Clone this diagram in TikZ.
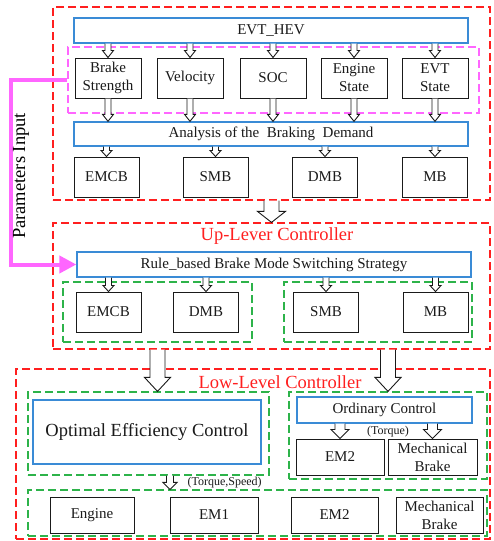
\documentclass[tikz,border=0pt]{standalone}
\usepackage{fontspec}
\setmainfont{Liberation Serif}
\usetikzlibrary{arrows.meta,calc}
\definecolor{ink}{HTML}{1A1A1A}
\definecolor{levelred}{HTML}{FF1F1F}
\definecolor{inputpink}{HTML}{FF66FF}
\definecolor{groupgreen}{HTML}{2DB34A}
\definecolor{stageblue}{HTML}{3A8BD6}

% hollow block arrow: from, to, half shaft, half head, head length
\newcommand{\hollowarrow}[5]{%
  \filldraw[hollow] let \p1=#1, \p2=#2 in
    (\x2-#3,\y1) -- (\x2-#3,\y2+#5) -- (\x2-#4,\y2+#5) -- (\x2,\y2)
    -- (\x2+#4,\y2+#5) -- (\x2+#3,\y2+#5) -- (\x2+#3,\y1);}

\begin{document}
\begin{tikzpicture}[
  x=1pt, y=-1pt,
  font=\fontsize{15pt}{18pt}\selectfont,
  unit/.style={draw=ink, fill=white, line width=1pt, text=ink, align=center,
    inner sep=1pt, anchor=center},
  stage/.style={draw=stageblue, fill=white, line width=1.3pt, text=ink, align=center,
    inner sep=1pt, anchor=center},
  level/.style={draw=levelred, line width=1.2pt, dash pattern=on 8pt off 4pt,
    inner sep=0pt, anchor=center},
  inputs/.style={draw=inputpink, line width=1.2pt, dash pattern=on 8pt off 4pt,
    inner sep=0pt, anchor=center},
  group/.style={draw=groupgreen, line width=1.2pt, dash pattern=on 8pt off 4pt,
    inner sep=0pt, anchor=center},
  title/.style={text=levelred, font=\fontsize{18.5pt}{20pt}\selectfont},
  signal/.style={text=ink, font=\fontsize{12pt}{14pt}\selectfont},
  hollow/.style={draw=ink, fill=white, line width=0.9pt, line join=miter},
  feed/.style={draw=inputpink, line width=4pt, -{Triangle[length=17pt,width=17pt]}}
]
\useasboundingbox (0,0) rectangle (494,541);

% dashed frames
\node[level, minimum width=437pt, minimum height=193pt] (upper) at (271.5,103.5) {};
\node[inputs, minimum width=411pt, minimum height=66pt] (params) at (273.5,80) {};
\node[level, minimum width=437pt, minimum height=126pt] (middle) at (271.5,286) {};
\node[group, minimum width=189pt, minimum height=60pt] (modesA) at (157.5,312) {};
\node[group, minimum width=188pt, minimum height=60pt] (modesB) at (378,312) {};
\node[level, minimum width=474pt, minimum height=170pt] (lower) at (253,454) {};
\node[group, minimum width=241pt, minimum height=83pt] (optgrp) at (148.5,433.5) {};
\node[group, minimum width=198pt, minimum height=87pt] (ordgrp) at (388,435.5) {};
\node[group, minimum width=459pt, minimum height=46pt] (actgrp) at (257.5,513) {};

% vehicle and inputs
\node[stage, minimum width=394pt, minimum height=25pt] (evt) at (271,30.5) {EVT\_HEV};
\node[unit, minimum width=66pt, minimum height=40pt] (strength) at (108,78) {Brake\\Strength};
\node[unit, minimum width=66pt, minimum height=40pt] (velocity) at (190,78) {Velocity};
\node[unit, minimum width=66pt, minimum height=40pt] (soc) at (273,78) {SOC};
\node[unit, minimum width=66pt, minimum height=40pt] (engstate) at (354,78) {Engine\\State};
\node[unit, minimum width=66pt, minimum height=40pt] (evtstate) at (435,78) {EVT\\State};
\node[stage, minimum width=394pt, minimum height=24pt] (demand) at (271,134)
  {Analysis of the\ \ Braking\ \ Demand};
\node[unit, minimum width=65pt, minimum height=40pt] (emcbA) at (106.5,177) {EMCB};
\node[unit, minimum width=65pt, minimum height=40pt] (smbA) at (215.5,177) {SMB};
\node[unit, minimum width=65pt, minimum height=40pt] (dmbA) at (325,177) {DMB};
\node[unit, minimum width=65pt, minimum height=40pt] (mbA) at (435,177) {MB};

% up-level controller
\node[title] (uptitle) at (277,236) {Up-Lever Controller};
\node[stage, minimum width=394pt, minimum height=25pt] (rule) at (274,264.5)
  {Rule\_based Brake Mode Switching Strategy};
\node[unit, minimum width=65pt, minimum height=40pt] (emcbB) at (108.5,312) {EMCB};
\node[unit, minimum width=65pt, minimum height=40pt] (dmbB) at (206,312) {DMB};
\node[unit, minimum width=65pt, minimum height=40pt] (smbB) at (326,312) {SMB};
\node[unit, minimum width=65pt, minimum height=40pt] (mbB) at (435.5,312) {MB};

% low-level controller
\node[title] (lowtitle) at (280,382) {Low-Level Controller};
\node[stage, minimum width=228pt, minimum height=64pt, font=\fontsize{18.5pt}{20pt}\selectfont]
  (oec) at (147,432) {Optimal Efficiency Control};
\node[stage, minimum width=175pt, minimum height=26pt] (ordinary) at (384.5,410) {Ordinary Control};
\node[unit, minimum width=88pt, minimum height=36pt] (emtwoA) at (340,457) {EM2};
\node[unit, minimum width=89pt, minimum height=36pt] (mechA) at (432.5,457) {Mechanical\\Brake};
\node[signal] (torque) at (388,432) {(Torque)};
\node[unit, minimum width=84pt, minimum height=36pt] (engine) at (92,515) {Engine};
\node[unit, minimum width=88pt, minimum height=36pt] (emone) at (214,515) {EM1};
\node[unit, minimum width=87pt, minimum height=36pt] (emtwoB) at (334.5,515) {EM2};
\node[unit, minimum width=87pt, minimum height=36pt] (mechB) at (439.5,515) {Mechanical\\Brake};
\node[signal, anchor=west] (torspeed) at (184,483) {(Torque,Speed)};

% parameters fed to the switching strategy
\coordinate (pbend) at (10.5,80);
\draw[feed] (params.west) -- (pbend) |- (rule.west);
\node[rotate=90, font=\fontsize{18.5pt}{20pt}\selectfont] (plabel) at (21,176) {Parameters Input};

% block arrows
\hollowarrow{(evt.south -| strength.north)}{(strength.north)}{3pt}{5.5pt}{7pt}
\hollowarrow{(evt.south -| velocity.north)}{(velocity.north)}{3pt}{5.5pt}{7pt}
\hollowarrow{(evt.south -| soc.north)}{(soc.north)}{3pt}{5.5pt}{7pt}
\hollowarrow{(evt.south -| engstate.north)}{(engstate.north)}{3pt}{5.5pt}{7pt}
\hollowarrow{(evt.south -| evtstate.north)}{(evtstate.north)}{3pt}{5.5pt}{7pt}
\hollowarrow{(strength.south)}{(demand.north -| strength.south)}{3pt}{5.5pt}{7pt}
\hollowarrow{(velocity.south)}{(demand.north -| velocity.south)}{3pt}{5.5pt}{7pt}
\hollowarrow{(soc.south)}{(demand.north -| soc.south)}{3pt}{5.5pt}{7pt}
\hollowarrow{(engstate.south)}{(demand.north -| engstate.south)}{3pt}{5.5pt}{7pt}
\hollowarrow{(evtstate.south)}{(demand.north -| evtstate.south)}{3pt}{5.5pt}{7pt}
\hollowarrow{(demand.south -| emcbA.north)}{(emcbA.north)}{3pt}{5.5pt}{6pt}
\hollowarrow{(demand.south -| smbA.north)}{(smbA.north)}{3pt}{5.5pt}{6pt}
\hollowarrow{(demand.south -| dmbA.north)}{(dmbA.north)}{3pt}{5.5pt}{6pt}
\hollowarrow{(demand.south -| mbA.north)}{(mbA.north)}{3pt}{5.5pt}{6pt}
\hollowarrow{(upper.south)}{(middle.north)}{7.5pt}{14pt}{11pt}
\hollowarrow{(rule.south -| emcbB.north)}{(emcbB.north)}{3pt}{5.5pt}{6pt}
\hollowarrow{(rule.south -| dmbB.north)}{(dmbB.north)}{3pt}{5.5pt}{6pt}
\hollowarrow{(rule.south -| smbB.north)}{(smbB.north)}{3pt}{5.5pt}{6pt}
\hollowarrow{(rule.south -| mbB.north)}{(mbB.north)}{3pt}{5.5pt}{6pt}
\hollowarrow{(middle.south -| modesA.south)}{(optgrp.north -| modesA.south)}{7.5pt}{13pt}{14pt}
\hollowarrow{(middle.south -| ordgrp.north)}{(ordgrp.north)}{7.5pt}{13pt}{14pt}
\hollowarrow{(ordinary.south -| emtwoA.north)}{(emtwoA.north)}{5pt}{9pt}{9pt}
\hollowarrow{(ordinary.south -| mechA.north)}{(mechA.north)}{5pt}{9pt}{9pt}
\hollowarrow{([xshift=22pt]optgrp.south)}{([xshift=-87.5pt]actgrp.north)}{3.5pt}{7pt}{7pt}
\end{tikzpicture}
\end{document}
